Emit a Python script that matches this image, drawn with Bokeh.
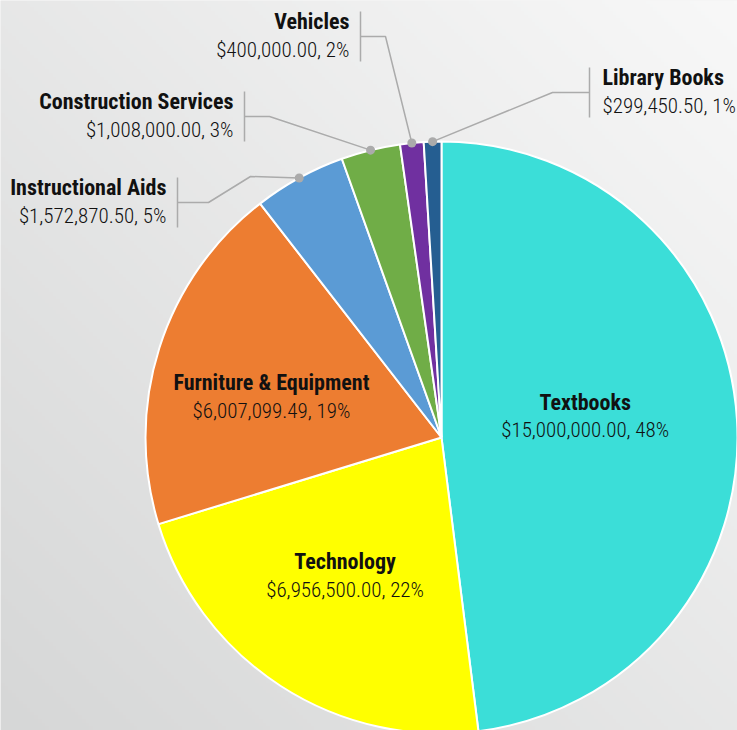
import numpy as np
from bokeh.plotting import figure
from bokeh.models import Range1d, ColumnDataSource
from bokeh.core.properties import value
from bokeh.embed import file_html
from bokeh.resources import INLINE

# ---- data ----
categories = ["Textbooks", "Technology", "Furniture & Equipment", "Instructional Aids",
              "Construction Services", "Vehicles", "Library Books"]
amounts = [15000000.00, 6956500.00, 6007099.49, 1572870.50, 1008000.00, 400000.00, 299450.50]
pct_labels = ["48%", "22%", "19%", "5%", "3%", "2%", "1%"]
colors = ["#3BDED8", "#FFFF00", "#ED7D31", "#5B9BD5", "#70AD47", "#7030A0", "#255E91"]

W, H = 737, 730
NAME_FONT = value("Roboto Condensed")
VAL_FONT = value("'Roboto Condensed Light', 'Roboto Condensed'")

p = figure(width=W, height=H, output_backend="svg", toolbar_location=None,
           x_range=Range1d(0, W), y_range=Range1d(0, H), min_border=0)
p.axis.visible = False
p.grid.visible = False
p.outline_line_color = None
p.background_fill_color = "#EBECEC"
p.border_fill_color = "#EBECEC"

# background gradient (decorative)
N = 200
gx, gy = np.meshgrid(np.linspace(0, 1, N), np.linspace(0, 1, N))
t = np.clip(((1 - gx) + (1 - gy)) / 2.0, 0, 1)  # 0 top-right, 1 bottom-left
c0 = np.array([248, 248, 248]); c1 = np.array([214, 215, 215])
img = np.zeros((N, N), dtype=np.uint32)
view = img.view(dtype=np.uint8).reshape((N, N, 4))
for k in range(3):
    view[:, :, k] = (c0[k] + (c1[k] - c0[k]) * t).astype(np.uint8)
view[:, :, 3] = 255
p.image_rgba(image=[img], x=0, y=0, dw=W, dh=H)

# ---- pie ----
cx, cy, R = 441, 293, 296
vals = np.array(amounts)
frac = vals / vals.sum()
cum_end = np.cumsum(frac)
cum_start = cum_end - frac
start = np.pi / 2 - 2 * np.pi * cum_end
end = np.pi / 2 - 2 * np.pi * cum_start
mid = (start + end) / 2

src = ColumnDataSource(dict(start=start, end=end, color=colors))
p.wedge(x=cx, y=cy, radius=R, start_angle="start", end_angle="end", fill_color="color",
        line_color="white", line_width=2, source=src)

def money(v):
    return "${:,.2f}".format(v)

value_text = [money(a) + ", " + pc for a, pc in zip(amounts, pct_labels)]
TXT = "#111111"
NAME_DY, VAL_DY = 15, -13

# inside labels (first three slices)
inner_off = [(-4, 11), (-16, -15), (-29, -5)]
for i in range(3):
    lx = cx + 0.5 * R * np.cos(mid[i]) + inner_off[i][0]
    ly = cy + 0.5 * R * np.sin(mid[i]) + inner_off[i][1]
    p.text(x=[lx], y=[ly + NAME_DY], text=[categories[i]], text_align="center",
           text_baseline="alphabetic", text_font=NAME_FONT, text_font_style="bold",
           text_font_size="22px", text_color=TXT)
    p.text(x=[lx], y=[ly + VAL_DY], text=[value_text[i]], text_align="center",
           text_baseline="alphabetic", text_font=VAL_FONT,
           text_font_size="21px", text_color=TXT)

# outside labels with leaders
leader_pts = {
    3: [(250, 554), (208, 528)], 4: [(269, 614)], 5: [(385, 694)], 6: [(552, 638)],
}
bars = {3: (177, 528, "right"), 4: (244, 614, "right"), 5: (360, 694, "right"), 6: (589, 638, "left")}
lead_col = "#ABABAB"
for i in range(3, 7):
    dx = cx + R * np.cos(mid[i])
    dy = cy + R * np.sin(mid[i])
    bx, by, side = bars[i]
    xs = [dx] + [q[0] for q in leader_pts[i]] + [bx]
    ys = [dy] + [q[1] for q in leader_pts[i]] + [by]
    p.line(xs, ys, line_color=lead_col, line_width=1.5)
    p.segment(x0=[bx], y0=[by - 25], x1=[bx], y1=[by + 25], line_color=lead_col, line_width=1.5)
    p.scatter(x=[dx], y=[dy], size=9, fill_color=lead_col, line_color=None)
    if side == "right":
        tx, al = bx - 11, "right"
    else:
        tx, al = bx + 13, "left"
    p.text(x=[tx], y=[by + NAME_DY], text=[categories[i]], text_align=al,
           text_baseline="alphabetic", text_font=NAME_FONT, text_font_style="bold",
           text_font_size="22px", text_color=TXT)
    p.text(x=[tx], y=[by + VAL_DY], text=[value_text[i]], text_align=al,
           text_baseline="alphabetic", text_font=VAL_FONT,
           text_font_size="21px", text_color=TXT)

open("out.html", "w").write(file_html(p, INLINE))
